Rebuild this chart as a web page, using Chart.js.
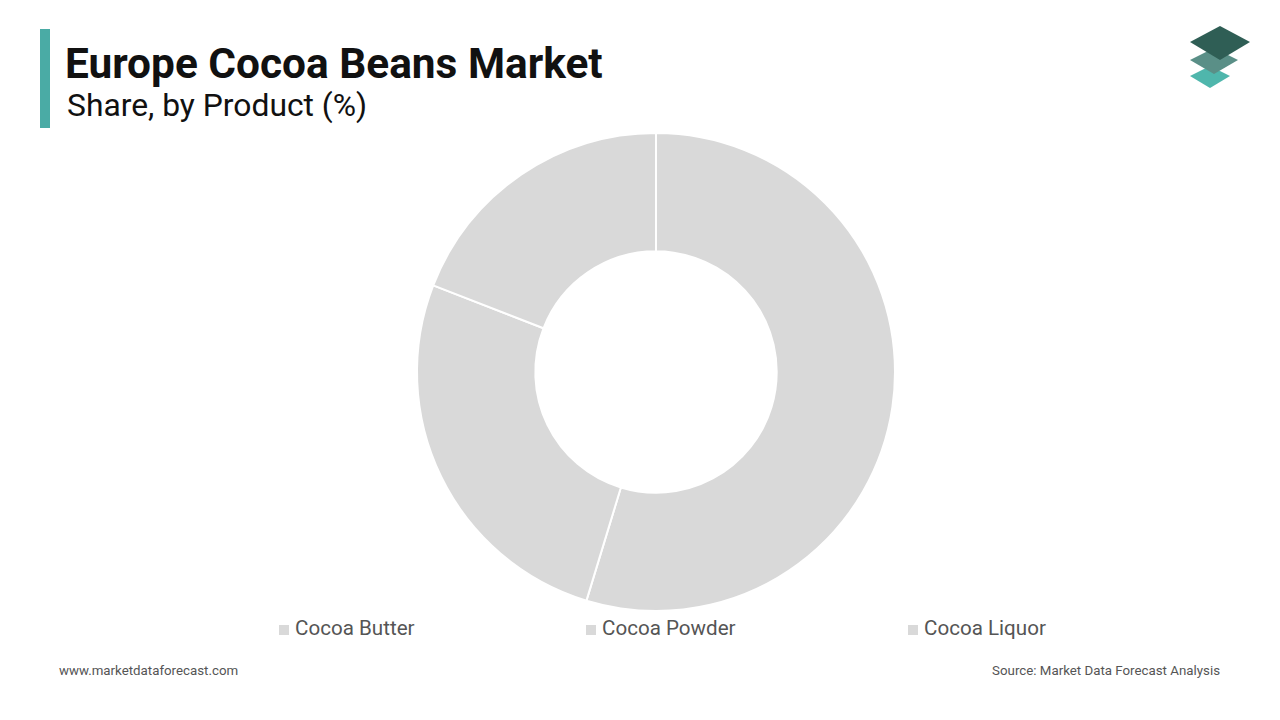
<!DOCTYPE html>
<html>
<head>
<meta charset="utf-8">
<script src="https://cdn.jsdelivr.net/npm/chart.js@4"></script>
<style>
  body { margin: 0; width: 1280px; height: 720px; background: #fff; font-family: Roboto, sans-serif; position: relative; overflow: hidden; }
  .bar { position: absolute; left: 40px; top: 29px; width: 10px; height: 99px; background: #4aaba5; }
  h1 { position: absolute; left: 65px; top: 39px; margin: 0; font-size: 42.4px; font-weight: 700; color: #111; }
  h2 { position: absolute; left: 67px; top: 86px; margin: 0; font-size: 31.8px; font-weight: 400; color: #111; }
  .chart { position: absolute; left: 414px; top: 130px; width: 484px; height: 484px; }
  .leg { position: absolute; top: 616px; font-size: 20.6px; color: #555; }
  .leg span { display: inline-block; width: 10px; height: 10px; background: #d9d9d9; margin-right: 6px; }
  .foot { position: absolute; top: 663px; font-size: 13.3px; color: #555; }
</style>
</head>
<body>
<div class="bar"></div>
<h1>Europe Cocoa Beans Market</h1>
<h2>Share, by Product (%)</h2>
<svg style="position:absolute;left:1186px;top:24px" width="66" height="68">
  <polygon points="4,52 24,42 44,52 24,64" fill="#4fb6ac"/>
  <polygon points="4,36 28,24 52,36 28,50" fill="#5a8f87"/>
  <polygon points="4,18 34,2 64,18 34,36" fill="#2f5e55"/>
</svg>
<div class="chart"><canvas id="c"></canvas></div>
<div id="legend"></div>
<div class="foot" style="left:59px">www.marketdataforecast.com</div>
<div class="foot" style="right:60px">Source: Market Data Forecast Analysis</div>
<script>
const labels = ['Cocoa Butter', 'Cocoa Powder', 'Cocoa Liquor'];
const values = [54.7, 26.2, 19.1];
const colors = ['#d9d9d9', '#d9d9d9', '#d9d9d9'];
const legendX = [279, 586, 908];

const legend = document.getElementById('legend');
labels.forEach((l, i) => {
    const d = document.createElement('div');
    d.className = 'leg';
    d.style.left = legendX[i] + 'px';
    d.innerHTML = '<span></span>' + l;
    legend.appendChild(d);
});

new Chart(document.getElementById('c'), {
    type: 'doughnut',
    data: {
        labels: labels,
        datasets: [{
            data: values,
            backgroundColor: colors,
            borderColor: '#fff',
            borderWidth: 2
        }]
    },
    options: {
        responsive: true,
        maintainAspectRatio: false,
        animation: false,
        cutout: '50.5%',
        layout: { padding: 2 },
        plugins: { legend: { display: false }, tooltip: { enabled: false } }
    }
});
</script>
</body>
</html>
